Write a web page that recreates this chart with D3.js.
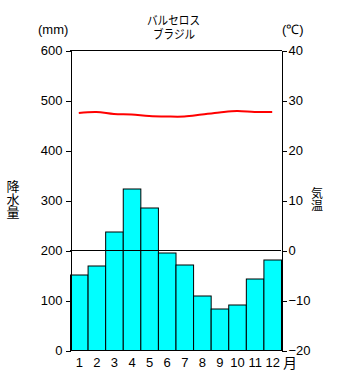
<!DOCTYPE html>
<html>
<head>
<meta charset="utf-8">
<script src="https://cdn.jsdelivr.net/npm/d3@7"></script>
<style>
  html, body { margin: 0; padding: 0; background: #fff; }
  svg { display: block; }
  text { fill: #000; }
  .num { font-family: "Liberation Sans", Arial, sans-serif; font-size: 13px; }
  .jp { font-family: "Noto Sans CJK JP", sans-serif; }
  .vert { writing-mode: vertical-rl; text-orientation: upright; }
</style>
</head>
<body>
<svg id="chart" width="350" height="380"></svg>
<script>
// Monthly climate normals, Barcelos (Brazil)
const months = ["1", "2", "3", "4", "5", "6", "7", "8", "9", "10", "11", "12"];
const precipitation = [151, 169, 237, 323, 285, 195, 171, 109, 83, 91, 143, 181]; // mm
const temperature = [27.4, 27.6, 27.2, 27.1, 26.8, 26.7, 26.7, 27.1, 27.5, 27.8, 27.6, 27.6]; // °C
const precipTicks = [0, 100, 200, 300, 400, 500, 600];
const tempTicks = [-20, -10, 0, 10, 20, 30, 40];

const svg = d3.select("#chart");
const plotLeft = 70, plotRight = 281, plotTop = 50, plotBottom = 350;

const x = d3.scaleBand().domain(months).range([plotLeft, plotRight]).padding(0);
const yP = d3.scaleLinear().domain([0, 600]).range([plotBottom, plotTop]);
const yT = d3.scaleLinear().domain([-20, 40]).range([plotBottom, plotTop]);

// precipitation bars
svg.append("g")
  .selectAll("rect")
  .data(precipitation)
  .join("rect")
  .attr("x", (d, i) => x(months[i]) + 0.5)
  .attr("y", d => yP(d) + 0.5)
  .attr("width", x.bandwidth())
  .attr("height", d => yP(0) - yP(d))
  .attr("fill", "#00ffff")
  .attr("stroke", "#000")
  .attr("stroke-width", 1);

// 0 °C reference line
svg.append("line")
  .attr("x1", plotLeft).attr("x2", plotRight)
  .attr("y1", Math.round(yT(0)) + 0.5).attr("y2", Math.round(yT(0)) + 0.5)
  .attr("stroke", "#000").attr("shape-rendering", "crispEdges");

// frame top and bottom
[plotTop, plotBottom].forEach(yy => {
  svg.append("line")
    .attr("x1", plotLeft).attr("x2", plotRight + 1)
    .attr("y1", yy + 0.5).attr("y2", yy + 0.5)
    .attr("stroke", "#000").attr("shape-rendering", "crispEdges");
});

// left axis (precipitation)
const axL = svg.append("g")
  .attr("transform", `translate(${plotLeft + 0.5},0.5)`)
  .call(d3.axisLeft(yP).tickValues(precipTicks).tickSize(5).tickSizeOuter(0).tickPadding(3));
// right axis (temperature)
const axR = svg.append("g")
  .attr("transform", `translate(${plotRight + 0.5},0.5)`)
  .call(d3.axisRight(yT).tickValues(tempTicks).tickSize(5).tickSizeOuter(0).tickPadding(2));
[axL, axR].forEach(g => {
  g.attr("shape-rendering", "crispEdges").attr("font-family", null).attr("font-size", null);
  g.selectAll("path, line").attr("stroke", "#000");
  g.selectAll("text").attr("class", "num").attr("fill", "#000");
});

// temperature line
const line = d3.line()
  .x((d, i) => x(months[i]) + x.bandwidth() / 2)
  .y(d => yT(d))
  .curve(d3.curveCatmullRom);
svg.append("path")
  .datum(temperature)
  .attr("d", line)
  .attr("fill", "none")
  .attr("stroke", "#ff0000")
  .attr("stroke-width", 2);

// month labels
svg.append("g")
  .selectAll("text")
  .data(months)
  .join("text")
  .attr("class", "num")
  .attr("x", d => x(d) + x.bandwidth() / 2 + 0.5)
  .attr("y", 367)
  .attr("text-anchor", "middle")
  .text(d => d);
svg.append("text").attr("class", "jp").attr("font-size", 14)
  .attr("x", 283).attr("y", 368).text("月");

// units
svg.append("text").attr("class", "num").attr("x", 38).attr("y", 34).text("(mm)");
svg.append("text").attr("class", "num").attr("x", 282).attr("y", 34).text("(℃)");

// two-line station title
const title = svg.append("text").attr("class", "jp").attr("font-size", 12);
title.append("tspan")
  .attr("x", 147).attr("y", 25).attr("textLength", 53).attr("lengthAdjust", "spacingAndGlyphs")
  .text("バルセロス");
title.append("tspan")
  .attr("x", 153).attr("y", 38.5).attr("textLength", 42).attr("lengthAdjust", "spacingAndGlyphs")
  .text("ブラジル");

// vertical axis titles
svg.append("text").attr("class", "jp vert").attr("font-size", 13)
  .attr("x", 13).attr("y", 180).text("降水量");
svg.append("text").attr("class", "jp vert").attr("font-size", 12)
  .attr("x", 317).attr("y", 187).text("気温");
</script>
</body>
</html>
